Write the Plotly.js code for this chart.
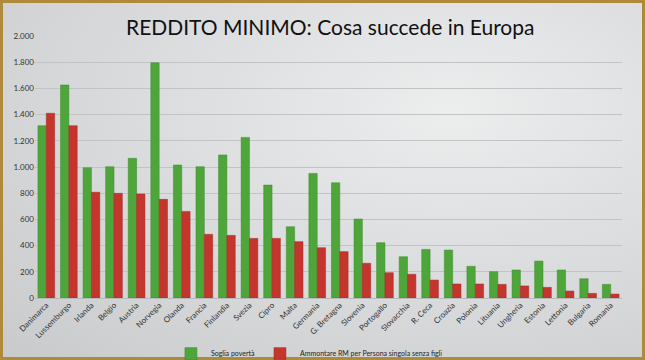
<!DOCTYPE html>
<html>
<head>
<meta charset="utf-8">
<script src="https://cdn.plot.ly/plotly-3.0.1.min.js"></script>
<style>
html,body{margin:0;padding:0;}
body{width:645px;height:360px;overflow:hidden;background:#a8843a;}
#frame{position:absolute;left:0;top:0;width:639px;height:354px;border:3px solid #b08a3c;
 background:radial-gradient(ellipse at 70% 30%, #eceded 0%, #dcdddf 45%, #c9cacc 100%);}
#chart{position:absolute;left:-3px;top:-3px;width:645px;height:360px;}
</style>
</head>
<body>
<div id="frame"><div id="chart"></div></div>
<script>
const countries = ["Danimarca","Lussemburgo","Irlanda","Belgio","Austria","Norvegia","Olanda","Francia","Finlandia","Svezia","Cipro","Malta","Germania","G. Bretagna","Slovenia","Portogallo","Slovacchia","R. Ceca","Croazia","Polonia","Lituania","Ungheria","Estonia","Lettonia","Bulgaria","Romania"];
const sogliaPoverta = [1315,1626,995,1002,1066,1796,1015,1002,1092,1226,862,544,951,880,603,422,315,371,366,242,201,214,282,214,147,104];
const ammontareRM = [1410,1315,807,799,794,753,661,486,478,455,455,430,384,354,265,193,181,137,107,107,104,92,81,53,35,30];
const yTicks = [0,200,400,600,800,1000,1200,1400,1600,1800,2000];

const traces = [
 {type:"bar", name:"Soglia povertà", x:countries, y:sogliaPoverta,
  marker:{color:"#4ea63a", line:{color:"#3c8a2c", width:0.5}}},
 {type:"bar", name:"Ammontare RM per Persona singola senza figli", x:countries, y:ammontareRM,
  marker:{color:"#c4362d", line:{color:"#a52a24", width:0.5}}}
];
const layout = {
 width:645, height:360,
 paper_bgcolor:"rgba(0,0,0,0)", plot_bgcolor:"rgba(0,0,0,0)",
 margin:{l:35, r:23, t:36, b:62, autoexpand:false},
 separators:",.",
 barmode:"group", bargap:0.26, bargroupgap:0,
 title:{text:"REDDITO MINIMO: Cosa succede in Europa", x:0.512, xanchor:"center", y:0.922, yanchor:"middle",
  font:{family:"Lato, Open Sans, sans-serif", size:21, color:"#111"}},
 xaxis:{automargin:false, tickangle:-45, tickfont:{family:"Lato, sans-serif", size:8, color:"#333"}, showline:false, ticks:""},
 yaxis:{automargin:false, range:[0,2000], tickvals:yTicks, tickformat:",d", tickfont:{family:"Lato, sans-serif", size:8, color:"#333"},
  gridcolor:"#c2c3c5", gridwidth:1, zeroline:true, zerolinecolor:"#b8b9bb", fixedrange:true},
 showlegend:true,
 legend:{orientation:"h", xref:"container", yref:"container", x:0.265, xanchor:"left", y:0.058, yanchor:"top",
  font:{family:"Lato, sans-serif", size:7, color:"#222"},
  bgcolor:"rgba(0,0,0,0)", itemwidth:30, traceorder:"normal"}
};
Plotly.newPlot("chart", traces, layout, {displayModeBar:false, staticPlot:true});
</script>
</body>
</html>
